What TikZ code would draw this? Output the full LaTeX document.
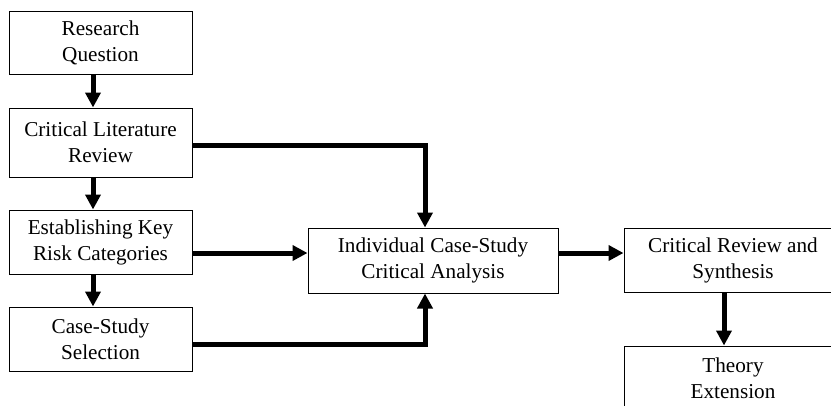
\documentclass[tikz,border=0pt]{standalone}
\usepackage{fontspec}
\setmainfont{Liberation Serif}
\usetikzlibrary{arrows.meta}
\begin{document}
\begin{tikzpicture}[x=1pt,y=-1pt,
  box/.style={draw, line width=1pt, align=center, inner sep=0pt,
    font=\fontsize{21.2}{26}\selectfont},
  arr/.style={line width=5pt, -{Triangle[width=15pt,length=15pt]}}]
\useasboundingbox (0,0) rectangle (831,405);
\clip (0,0) rectangle (831,405);
\node[box, minimum width=183pt, minimum height=63pt] (rq) at (100.5,42.5) {Research\\Question};
\node[box, minimum width=183pt, minimum height=69pt] (clr) at (100.5,142.5) {Critical Literature\\Review};
\node[box, minimum width=183pt, minimum height=64pt] (ekr) at (100.5,242) {Establishing Key\\Risk Categories};
\node[box, minimum width=183pt, minimum height=64pt] (css) at (100.5,339) {Case-Study\\Selection};
\node[box, minimum width=250pt, minimum height=65pt] (ica) at (433,260.5) {Individual Case-Study\\Critical Analysis};
\node[box, minimum width=218pt, minimum height=64pt] (crs) at (733,260) {Critical Review and\\Synthesis};
\node[box, minimum width=218pt, minimum height=64pt] (te) at (733,378) {Theory\\Extension};
\draw[arr] ([xshift=-7.5pt]rq.south) -- ([xshift=-7.5pt]clr.north);
\draw[arr] ([xshift=-7.5pt]clr.south) -- ([xshift=-7.5pt]ekr.north);
\draw[arr] ([xshift=-7.5pt]ekr.south) -- ([xshift=-7.5pt]css.north);
\draw[arr] ([yshift=-2.5pt]clr.east) -| ([xshift=-8pt]ica.north);
\draw[arr] ([yshift=-11pt]ekr.east) -- ([yshift=-11pt]ekr.east -| ica.west);
\draw[arr] ([yshift=-5pt]css.east) -| ([xshift=-8pt]ica.south);
\draw[arr] ([yshift=7.5pt]ica.east) -- ([yshift=7.5pt]ica.east -| crs.west);
\draw[arr] ([xshift=-9pt]crs.south) -- ([xshift=-9pt]te.north);
\end{tikzpicture}
\end{document}
